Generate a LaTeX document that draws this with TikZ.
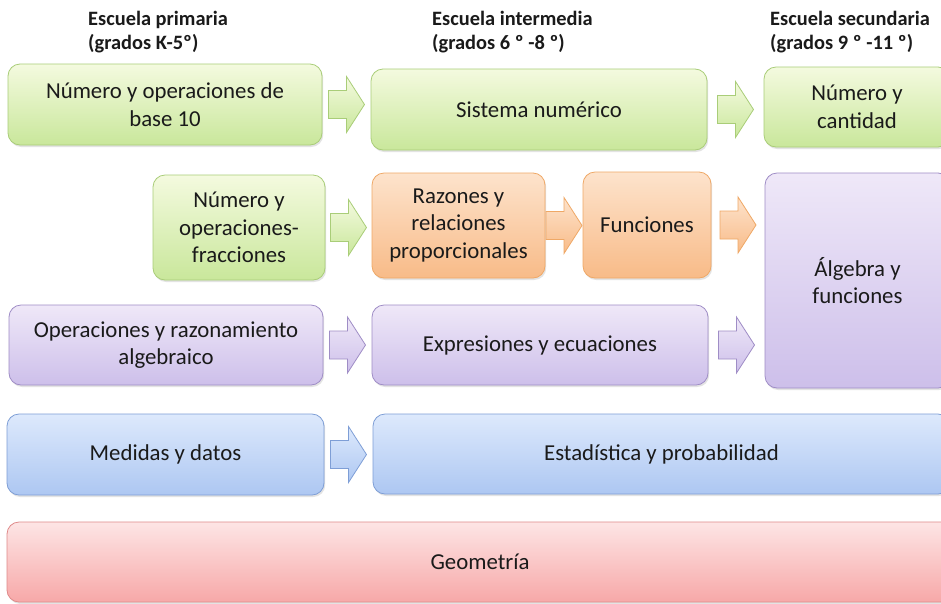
\documentclass[tikz,border=0pt]{standalone}
\usepackage{fontspec}
\setmainfont{Carlito}
\usetikzlibrary{calc,shadows}
\definecolor{txt}{HTML}{1A1A1A}
\definecolor{greentop}{HTML}{F4FADF}
\definecolor{greenbot}{HTML}{C9E79B}
\definecolor{greendraw}{HTML}{A9CD78}
\definecolor{orangetop}{HTML}{FDE3CC}
\definecolor{orangebot}{HTML}{F8BB88}
\definecolor{orangedraw}{HTML}{EFA866}
\definecolor{purpletop}{HTML}{EFE8F8}
\definecolor{purplebot}{HTML}{CDBFEA}
\definecolor{purpledraw}{HTML}{9F8DC6}
\definecolor{bluetop}{HTML}{DDE9FC}
\definecolor{bluebot}{HTML}{ADC7F2}
\definecolor{bluedraw}{HTML}{7E9ED6}
\definecolor{redtop}{HTML}{FDE5E5}
\definecolor{redbot}{HTML}{F7A8A8}
\definecolor{reddraw}{HTML}{DF8A8A}
\tikzset{
  box/.style={rounded corners=12pt, draw=#1draw, line width=0.8pt,
    top color=#1top, bottom color=#1bot, align=center, text=txt,
    font=\fontsize{22.8}{27.5}\selectfont, inner sep=0pt,
    drop shadow={shadow xshift=1.2pt, shadow yshift=-2pt, opacity=0.22}},
  barrow/.style={draw=#1draw, line width=0.8pt, top color=#1top, bottom color=#1bot,
    line join=miter},
  header/.style={font=\bfseries\fontsize{20.4}{24}\selectfont, text=txt, align=left,
    anchor=north west, inner sep=0pt}
}
\newcommand\blockarrow[3]{%
  \path[barrow=#3] let \p1=(#1.center), \p2=($(#1.east)!0.5!(#2.west)$) in
    (\x2-18pt,\y1+14pt) -- (\x2,\y1+14pt) -- (\x2,\y1+28pt) -- (\x2+18pt,\y1)
    -- (\x2,\y1-28pt) -- (\x2,\y1-14pt) -- (\x2-18pt,\y1-14pt) -- cycle;}
\begin{document}
\begin{tikzpicture}[x=1pt,y=-1pt]
\useasboundingbox (0,0) rectangle (941,603);
\clip (0,0) rectangle (941,603);
\fill[white] (0,0) rectangle (941,603);
% headers
\node[header] (h1) at (88,11) {Escuela primaria\\(grados K-5º)};
\node[header] (h2) at (432,11) {Escuela intermedia\\(grados 6 º -8 º)};
\node[header] (h3) at (770,11) {Escuela secundaria\\(grados 9 º -11 º)};
% boxes
\node[box=green, minimum width=314pt, minimum height=81pt] (A) at (165,104.5) {Número y operaciones de\\base 10};
\node[box=green, minimum width=336pt, minimum height=81pt] (B) at (539,109.5) {Sistema numérico};
\node[box=green, minimum width=186pt, minimum height=80pt] (C) at (857,107) {Número y\\cantidad};
\node[box=green, minimum width=172pt, minimum height=105pt] (D) at (239,227.5) {Número y\\operaciones-\\fracciones};
\node[box=orange, minimum width=173pt, minimum height=105pt] (E) at (458.5,225.5) {Razones y\\relaciones\\proporcionales};
\node[box=orange, minimum width=128pt, minimum height=106pt] (F) at (647,225) {Funciones};
\node[box=purple, minimum width=185pt, minimum height=215pt] (G) at (857.5,280.5) {Álgebra y\\funciones};
\node[box=purple, minimum width=314pt, minimum height=80pt] (H) at (166,345) {Operaciones y razonamiento\\algebraico};
\node[box=purple, minimum width=336pt, minimum height=80pt] (I) at (540,345) {Expresiones y ecuaciones};
\node[box=blue, minimum width=317pt, minimum height=81pt] (J) at (165.5,454.5) {Medidas y datos};
\node[box=blue, minimum width=577pt, minimum height=80pt] (K) at (661.5,454) {Estadística y probabilidad};
\node[box=red, minimum width=946pt, minimum height=80pt] (L) at (480,562) {Geometría};
% arrows
\blockarrow{A}{B}{green}
\blockarrow{B}{C}{green}
\blockarrow{D}{E}{green}
\blockarrow{E}{F}{orange}
\blockarrow{F}{G}{orange}
\blockarrow{H}{I}{purple}
\blockarrow{I}{G}{purple}
\blockarrow{J}{K}{blue}
\end{tikzpicture}
\end{document}
